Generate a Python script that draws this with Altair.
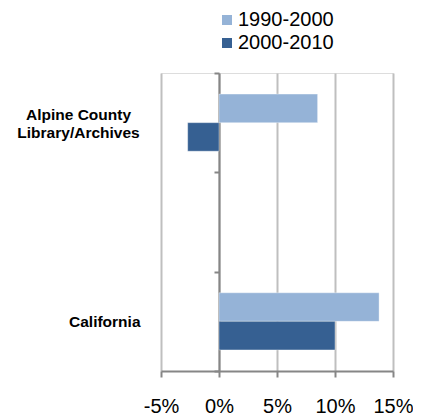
import altair as alt
import pandas as pd

categories = ["Alpine County Library/Archives", " ", "California"]
series = ["1990-2000", "2000-2010"]
values_1990_2000 = [8.5, None, 13.8]
values_2000_2010 = [-2.7, None, 10.0]
x_ticks = [-5, 0, 5, 10, 15]
colors = ["#95B3D7", "#366092"]

rows = []
for cat, a, b in zip(categories, values_1990_2000, values_2000_2010):
    if a is not None:
        rows.append({"category": cat, "series": series[0], "value": a})
    if b is not None:
        rows.append({"category": cat, "series": series[1], "value": b})
df = pd.DataFrame(rows)

FONT = "Liberation Sans"
W, H = 232, 298
zero_offset = -W * 5 / 20  # move category axis to x = 0
alpine_test = "datum.value == 'Alpine County Library/Archives'"

chart = alt.Chart(df).mark_bar(
    stroke="#ffffff", strokeWidth=0.6, strokeOpacity=0.6
).encode(
    x=alt.X(
        "value:Q",
        scale=alt.Scale(domain=[-5, 15], nice=False, zero=False),
        axis=alt.Axis(
            values=x_ticks,
            labelExpr="datum.value + '%'",
            title=None,
            grid=True,
            gridColor="#BFBFBF",
            gridWidth=2,
            domainColor="#868686",
            domainWidth=2,
            tickColor="#868686",
            tickWidth=2,
            tickSize=6,
            labelPadding=19,
            labelFlush=False,
            labelOverlap=False,
            labelFont=FONT,
            labelFontSize=20,
            labelColor="#000000",
        ),
    ),
    y=alt.Y(
        "category:N",
        scale=alt.Scale(domain=categories, paddingInner=0, paddingOuter=0),
        axis=alt.Axis(
            title=None,
            offset=zero_offset,
            grid=False,
            tickBand="extent",
            domainColor="#868686",
            domainWidth=2,
            tickColor="#868686",
            tickWidth=2,
            tickSize=5,
            labelExpr="datum.value == 'Alpine County Library/Archives' ? ['Alpine County', 'Library/Archives'] : datum.value",
            labelAlign=alt.ConditionalAxisLabelAlign(
                condition={"test": alpine_test, "value": "center"},
                value="right",
            ),
            labelPadding=alt.ConditionalAxisNumber(
                condition={"test": alpine_test, "value": 136},
                value=74,
            ),
            labelOffset=alt.ConditionalAxisNumber(
                condition={"test": alpine_test, "value": -8},
                value=0,
            ),
            labelBaseline="middle",
            labelFont=FONT,
            labelFontSize=15.5,
            labelFontWeight="bold",
            labelColor="#000000",
            labelLineHeight=18,
            labelOverlap=False,
        ),
    ),
    yOffset=alt.YOffset(
        "series:N",
        scale=alt.Scale(domain=series, paddingInner=0, paddingOuter=0.74),
    ),
    color=alt.Color(
        "series:N",
        scale=alt.Scale(domain=series, range=colors),
        legend=alt.Legend(
            title=None,
            orient="none",
            legendX=56,
            legendY=-63,
            padding=0,
            symbolType="square",
            symbolSize=100,
            symbolStrokeWidth=0,
            labelFont=FONT,
            labelFontSize=20,
            labelColor="#000000",
            labelOffset=1,
            rowPadding=3,
        ),
    ),
).properties(
    width=W,
    height=H,
    autosize=alt.AutoSizeParams(type="none"),
    padding={"left": 153, "top": 65, "right": 20, "bottom": 50},
).configure_view(
    stroke=None
).configure(
    background="#ffffff"
)

chart.save("out.html", embed_options={"renderer": "svg", "actions": False})
